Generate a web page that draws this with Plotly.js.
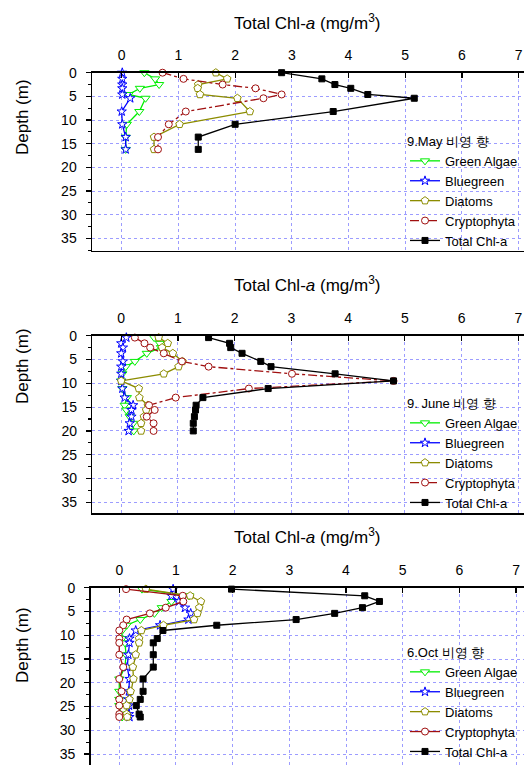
<!DOCTYPE html>
<html>
<head>
<meta charset="utf-8">
<script src="https://cdn.plot.ly/plotly-3.0.1.min.js"></script>
<style>html,body{margin:0;padding:0;background:#fff;overflow:hidden;width:524px;height:765px;}#chart{width:524px;height:765px;overflow:hidden;}</style>
</head>
<body>
<div id="chart"></div>
<script>
// ---------- data ----------
var seriesNames = ["Green Algae", "Bluegreen", "Diatoms", "Cryptophyta", "Total Chl-a"];
var legendTitles = ["9.May 비영 향", "9. June 비영 향", "6.Oct 비영 향"];
var xTickVals = [0, 1, 2, 3, 4, 5, 6, 7];
var yTickVals = [0, 5, 10, 15, 20, 25, 30, 35];

var mayDepth   = [0, 1.3, 2.5, 3.3, 4.6, 5.4, 8.2, 10.9, 13.6, 16.2];
var mayGreen   = [0.40, 0.59, 0.66, 0.32, 0.12, 0.42, 0.31, 0.09, 0.07, 0.07];
var mayBlue    = [0.01, 0.01, 0.01, 0.01, 0.01, 0.15, 0.00, 0.01, 0.07, 0.07];
var mayDiatom  = [1.66, 1.86, 1.35, 1.34, 1.38, 2.04, 2.26, 1.02, 0.57, 0.57];
var mayCrypto  = [0.72, 1.09, 1.78, 2.36, 2.82, 2.50, 1.13, 0.83, 0.64, 0.64];
var mayTotal   = [2.82, 3.53, 3.76, 4.04, 4.34, 5.16, 3.73, 2.00, 1.35, 1.35];

var juneDepth  = [0.4, 1.6, 2.5, 3.7, 5.4, 6.5, 8.0, 9.5, 11.1, 13.0, 14.6, 15.6, 17.0, 18.4, 20.0];
var juneGreen  = [0.58, 0.68, 0.70, 0.45, 0.24, 0.08, 0.02, 0.00, 0.02, 0.10, 0.06, 0.09, 0.15, 0.21, 0.22];
var juneBlue   = [0.09, 0.00, 0.03, 0.00, 0.03, 0.00, 0.00, 0.00, 0.02, 0.06, 0.21, 0.18, 0.18, 0.15, 0.13];
var juneDiatom = [0.66, 0.82, 0.72, 0.91, 1.08, 1.01, 0.75, 0.00, 0.31, 0.32, 0.47, 0.44, 0.40, 0.35, 0.35];
var juneCrypto = [0.24, 0.41, 0.51, 0.75, 1.07, 1.54, 3.01, 4.80, 2.25, 0.96, 0.49, 0.59, 0.45, 0.57, 0.57];
var juneTotal  = [1.54, 1.91, 1.93, 2.13, 2.46, 2.64, 3.77, 4.80, 2.59, 1.44, 1.32, 1.31, 1.29, 1.27, 1.27];

var octDepth   = [0.3, 1.7, 2.9, 4.2, 5.4, 6.7, 7.9, 9.0, 10.7, 11.6, 14.1, 16.7, 19.2, 21.8, 23.5, 24.8, 26.6, 27.2];
var octGreen   = [0.40, 1.23, 0.92, 0.75, 0.62, 0.37, 0.13, 0.05, 0.05, 0.10, 0.12, 0.10, 0.00, 0.00, 0.00, 0.00, 0.03, 0.05];
var octBlue    = [0.95, 0.92, 1.05, 1.16, 1.26, 1.22, 0.72, 0.29, 0.18, 0.18, 0.16, 0.14, 0.18, 0.17, 0.16, 0.17, 0.17, 0.18];
var octDiatom  = [0.47, 1.25, 1.44, 1.41, 1.38, 1.32, 0.78, 0.39, 0.35, 0.35, 0.29, 0.24, 0.25, 0.20, 0.18, 0.13, 0.13, 0.14];
var octCrypto  = [0.12, 1.12, 1.13, 0.82, 0.54, 0.13, 0.07, 0.00, 0.00, 0.00, 0.00, 0.07, 0.00, 0.04, 0.00, 0.00, 0.00, 0.00];
var octTotal   = [1.98, 4.33, 4.59, 4.29, 3.80, 3.12, 1.72, 0.77, 0.67, 0.60, 0.60, 0.60, 0.42, 0.42, 0.37, 0.30, 0.35, 0.37];

// ---------- styles ----------
var styles = [
  {color: "#00ee00", symbol: "triangle-down", size: 8, dash: "solid", fill: "#ffffff"},
  {color: "#0000ff", symbol: "star", size: 7, dash: "solid", fill: "#ffffff"},
  {color: "#8c8c00", symbol: "pentagon", size: 8, dash: "solid", fill: "#ffffff"},
  {color: "#a01010", symbol: "circle", size: 7, dash: "dashdot", fill: "#ffffff"},
  {color: "#000000", symbol: "square", size: 6, dash: "solid", fill: "#000000"}
];
var cryptoDash = ["dashdot", "dashdot", "solid"];

var panels = [
  {depth: mayDepth,  vals: [mayGreen, mayBlue, mayDiatom, mayCrypto, mayTotal]},
  {depth: juneDepth, vals: [juneGreen, juneBlue, juneDiatom, juneCrypto, juneTotal]},
  {depth: octDepth,  vals: [octGreen, octBlue, octDiatom, octCrypto, octTotal]}
];

var W = 524, H = 765;
function py(p) { return 1 - p / H; }
function px(p) { return p / W; }

var traces = [];
panels.forEach(function (pn, i) {
  var sfx = i === 0 ? "" : String(i + 1);
  pn.vals.forEach(function (v, k) {
    var s = styles[k];
    traces.push({
      type: "scatter", mode: "lines+markers",
      x: v, y: pn.depth, name: seriesNames[k],
      xaxis: "x" + sfx, yaxis: "y" + sfx,
      legend: "legend" + sfx,
      line: {color: s.color, width: 1.3, dash: (k === 3 ? cryptoDash[i] : s.dash)},
      marker: {symbol: s.symbol, size: s.size, color: s.fill, line: {color: s.color, width: 1}},
      cliponaxis: false
    });
  });
});

// geometry (pixels) of each panel
var geo = [
  {left: 92,   top: 72.7,  bottom: 250.7, xr: [-0.524, 7.095], yr: [37.6, 0], legTop: 129, titleY: 22,  depthY: 117},
  {left: 92.3, top: 335.7, bottom: 513.3, xr: [-0.51, 7.1],   yr: [37.3, 0], legTop: 391, titleY: 284, depthY: 366},
  {left: 90.7, top: 587.7, bottom: 765,   xr: [-0.504, 7.14], yr: [37.3, 0], legTop: 640, titleY: 536, depthY: 645}
];

var fontFam = "Liberation Sans, Arial, sans-serif";
var layout = {
  width: W, height: H,
  margin: {l: 0, r: 0, t: 0, b: 0, autoexpand: false},
  paper_bgcolor: "#ffffff", plot_bgcolor: "#ffffff",
  font: {family: fontFam, size: 14, color: "#000"},
  showlegend: true,
  annotations: []
};

geo.forEach(function (g, i) {
  var sfx = i === 0 ? "" : String(i + 1);
  layout["xaxis" + sfx] = {
    domain: [px(g.left), 1],
    anchor: "y" + sfx,
    side: "top",
    range: g.xr,
    tickvals: xTickVals,
    ticks: "inside", ticklen: 5, tickwidth: 1.2, tickcolor: "#000",
    ticklabelstandoff: 6,
    showline: true, linecolor: "#000", linewidth: 1.5, mirror: true,
    showgrid: true, gridcolor: "#9c9cff", griddash: "dot", gridwidth: 1,
    zeroline: false,
    tickfont: {size: 14, family: fontFam}
  };
  layout["yaxis" + sfx] = {
    domain: [py(g.bottom), py(g.top)],
    anchor: "x" + sfx,
    range: g.yr,
    tickvals: yTickVals,
    ticks: "outside", ticklen: 5, tickwidth: 1.2, tickcolor: "#000",
    minor: {dtick: 2.5, tick0: 0, ticks: "outside", ticklen: 3, tickcolor: "#000", showgrid: false},
    ticklabelstandoff: 6,
    showline: true, linecolor: "#000", linewidth: 1.5,
    showgrid: true, gridcolor: "#9c9cff", griddash: "dot", gridwidth: 1,
    zeroline: false,
    tickfont: {size: 14, family: fontFam}
  };
  layout["legend" + sfx] = {
    x: px(405), xanchor: "left",
    y: py(g.legTop), yanchor: "top",
    bgcolor: "rgba(0,0,0,0)",
    font: {size: 13, family: fontFam, color: "#000"},
    title: {text: legendTitles[i], side: "top", font: {size: 13, family: fontFam, color: "#000"}},
    tracegroupgap: 0,
    itemwidth: 30
  };
  layout.annotations.push({
    xref: "paper", yref: "paper",
    x: px(307), y: py(g.titleY), xanchor: "center", yanchor: "middle",
    text: "Total Chl-<i>a</i> (mg/m<sup>3</sup>)",
    showarrow: false, font: {size: 17, family: fontFam}
  });
  layout.annotations.push({
    xref: "paper", yref: "paper",
    x: px(22), y: py(g.depthY), xanchor: "center", yanchor: "middle",
    text: "Depth (m)", textangle: -90,
    showarrow: false, font: {size: 17, family: fontFam}
  });
});

Plotly.newPlot("chart", traces, layout, {displayModeBar: false, staticPlot: true});
</script>
</body>
</html>
